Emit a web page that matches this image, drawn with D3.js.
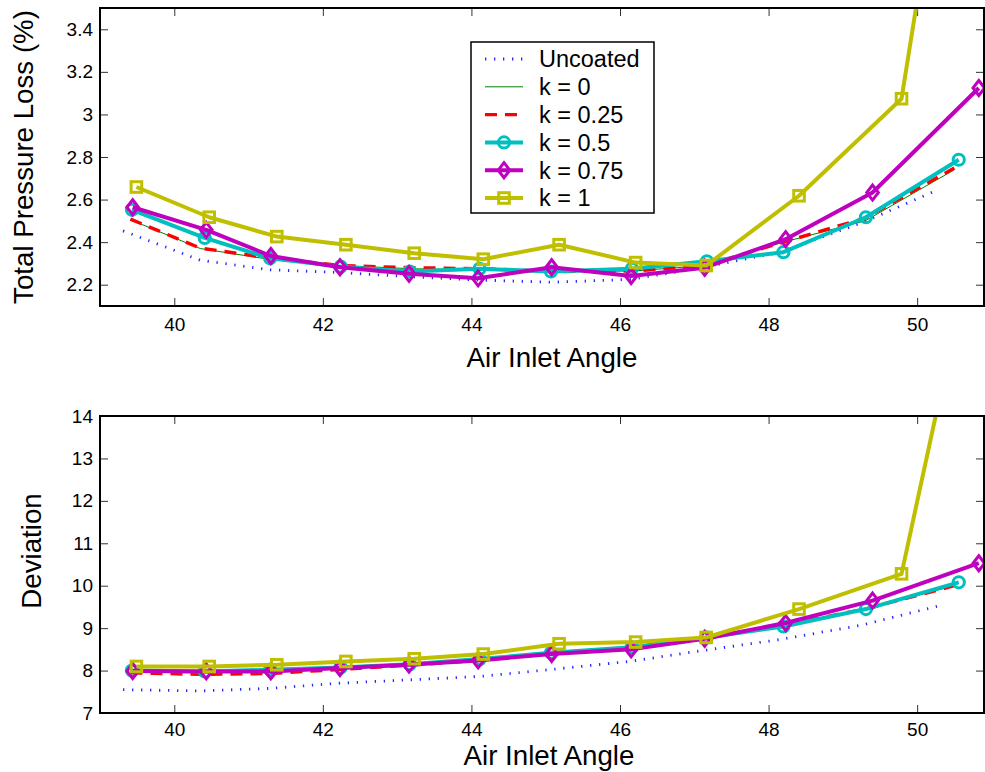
<!DOCTYPE html>
<html>
<head>
<meta charset="utf-8">
<script src="https://cdn.jsdelivr.net/npm/d3@7"></script>
<style>
  body { margin: 0; background: #fff; }
  svg { display: block; font-family: 'Liberation Sans', Arial, sans-serif; }
</style>
</head>
<body>
<div id="chart"></div>
<script>
// air inlet angle of each measured point (every series has its own)
const xUncoated = [39.31, 40.35, 41.28, 42.2, 43.15, 44.1, 45.1, 46.15, 47.1, 48.15, 49.25, 50.28];
const xK0 = [39.41, 40.35, 41.3, 42.25, 43.2, 44.15, 45.15, 46.2, 47.15, 48.2, 49.3, 50.5];
const xK025 = [39.41, 40.35, 41.3, 42.25, 43.2, 44.15, 45.15, 46.2, 47.15, 48.2, 49.3, 50.5];
const xK05 = [39.43, 40.41, 41.29, 42.24, 43.17, 44.11, 45.07, 46.16, 47.17, 48.2, 49.31, 50.56];
const xK075 = [39.44, 40.43, 41.3, 42.23, 43.16, 44.09, 45.08, 46.15, 47.14, 48.23, 49.4, 50.83];
const xK1 = [39.49, 40.47, 41.38, 42.31, 43.23, 44.16, 45.18, 46.21, 47.16, 48.41, 49.79, 50.5];

// total pressure loss (%)
const lossUncoated = [2.453, 2.315, 2.27, 2.258, 2.238, 2.222, 2.212, 2.225, 2.28, 2.352, 2.49, 2.646];
const lossK0 = [2.505, 2.37, 2.318, 2.29, 2.275, 2.27, 2.26, 2.265, 2.29, 2.4, 2.5, 2.74];
const lossK025 = [2.508, 2.372, 2.325, 2.29, 2.28, 2.275, 2.262, 2.265, 2.29, 2.4, 2.513, 2.748];
const lossK05 = [2.552, 2.42, 2.324, 2.285, 2.262, 2.275, 2.262, 2.275, 2.31, 2.353, 2.517, 2.787];
const lossK075 = [2.564, 2.458, 2.335, 2.282, 2.251, 2.23, 2.282, 2.241, 2.28, 2.414, 2.633, 3.124];
const lossK1 = [2.659, 2.517, 2.426, 2.388, 2.348, 2.32, 2.388, 2.304, 2.29, 2.618, 3.074, 4.63];

// deviation
const devUncoated = [7.55, 7.52, 7.58, 7.7, 7.78, 7.86, 8.03, 8.22, 8.47, 8.73, 9.07, 9.52];
const devK0 = [7.97, 7.95, 7.98, 8.05, 8.13, 8.25, 8.42, 8.55, 8.77, 9.07, 9.45, 10.0];
const devK025 = [7.95, 7.91, 7.93, 8.03, 8.13, 8.25, 8.42, 8.55, 8.77, 9.07, 9.45, 10.0];
const devK05 = [8.0, 7.98, 8.02, 8.07, 8.15, 8.27, 8.42, 8.55, 8.78, 9.04, 9.45, 10.08];
const devK075 = [7.99, 7.98, 7.98, 8.06, 8.14, 8.24, 8.39, 8.5, 8.75, 9.12, 9.65, 10.53];
const devK1 = [8.097, 8.097, 8.137, 8.215, 8.279, 8.389, 8.632, 8.672, 8.78, 9.449, 10.28, 16.03];

const seriesNames = ['Uncoated', 'k = 0', 'k = 0.25', 'k = 0.5', 'k = 0.75', 'k = 1'];
const xTicks = [40, 42, 44, 46, 48, 50];
const lossTicks = [2.2, 2.4, 2.6, 2.8, 3.0, 3.2, 3.4];
const devTicks = [7, 8, 9, 10, 11, 12, 13, 14];

const xList = [xUncoated, xK0, xK025, xK05, xK075, xK1];
const lossList = [lossUncoated, lossK0, lossK025, lossK05, lossK075, lossK1];
const devList = [devUncoated, devK0, devK025, devK05, devK075, devK1];

// line look for each series (MATLAB style)
const styles = [
  { color: '#2626ff', width: 2.8, dash: '1.3,7.7', marker: null },
  { color: '#008000', width: 1, dash: null, marker: null },
  { color: '#ff0000', width: 3.4, dash: '12,8', marker: null },
  { color: '#00bfbf', width: 4, dash: null, marker: 'circle' },
  { color: '#bf00bf', width: 4, dash: null, marker: 'diamond' },
  { color: '#bfbf00', width: 4, dash: null, marker: 'square' },
];

const width = 985;
const height = 772;
const left = 100;
const right = 984;

const svg = d3.select('#chart')
  .append('svg')
  .attr('width', width)
  .attr('height', height);

const xScale = d3.scaleLinear().domain([39, 50.9]).range([left, right]);

function drawMarker(g, type, cx, cy, color) {
  if (type === 'circle') {
    g.append('circle').attr('cx', cx).attr('cy', cy).attr('r', 5.6)
      .attr('fill', 'none').attr('stroke', color).attr('stroke-width', 3);
  } else if (type === 'diamond') {
    g.append('path')
      .attr('d', `M${cx},${cy - 7.5}L${cx + 5.8},${cy}L${cx},${cy + 7.5}L${cx - 5.8},${cy}Z`)
      .attr('fill', 'none').attr('stroke', color).attr('stroke-width', 3);
  } else if (type === 'square') {
    g.append('rect').attr('x', cx - 5.3).attr('y', cy - 5.3)
      .attr('width', 10.6).attr('height', 10.6)
      .attr('fill', 'none').attr('stroke', color).attr('stroke-width', 3);
  }
}

function drawPanel(id, top, bottom, yDomain, yTicks, yList, xPad) {
  const yScale = d3.scaleLinear().domain(yDomain).range([bottom, top]);
  const g = svg.append('g').attr('class', id);

  g.append('clipPath').attr('id', 'clip-' + id)
    .append('rect')
    .attr('x', left).attr('y', top)
    .attr('width', right - left).attr('height', bottom - top);

  const fmt = (d) => String(+d.toFixed(1));

  // ticks inside the box, labels on bottom and left only
  g.append('g')
    .attr('transform', `translate(0,${bottom})`)
    .call(d3.axisBottom(xScale).tickValues(xTicks).tickSizeInner(-8).tickSizeOuter(0).tickPadding(xPad).tickFormat(fmt));
  g.append('g')
    .attr('transform', `translate(0,${top})`)
    .call(d3.axisTop(xScale).tickValues(xTicks).tickSizeInner(-8).tickSizeOuter(0).tickFormat(''));
  g.append('g')
    .attr('transform', `translate(${left},0)`)
    .call(d3.axisLeft(yScale).tickValues(yTicks).tickSizeInner(-8).tickSizeOuter(0).tickPadding(7).tickFormat(fmt));
  g.append('g')
    .attr('transform', `translate(${right},0)`)
    .call(d3.axisRight(yScale).tickValues(yTicks).tickSizeInner(-8).tickSizeOuter(0).tickFormat(''));

  g.selectAll('.domain').remove();
  g.selectAll('.tick line').attr('stroke', '#333').attr('stroke-width', 1);
  g.selectAll('.tick text')
    .attr('fill', '#000')
    .style('font-size', '19px')
    .style('font-family', "'Liberation Sans', Arial, sans-serif");

  const plot = g.append('g').attr('clip-path', `url(#clip-${id})`);
  const line = d3.line().x((d) => xScale(d[0])).y((d) => yScale(d[1]));

  seriesNames.forEach((name, i) => {
    const st = styles[i];
    const pts = d3.zip(xList[i], yList[i]);
    plot.append('path')
      .datum(pts)
      .attr('d', line)
      .attr('fill', 'none')
      .attr('stroke', st.color)
      .attr('stroke-width', st.width)
      .attr('stroke-dasharray', st.dash)
      .attr('stroke-linejoin', 'round');
    if (st.marker) {
      pts.forEach((p) => drawMarker(plot, st.marker, xScale(p[0]), yScale(p[1]), st.color));
    }
  });

  // box
  g.append('rect')
    .attr('x', left).attr('y', top)
    .attr('width', right - left).attr('height', bottom - top)
    .attr('fill', 'none')
    .attr('stroke', '#000')
    .attr('stroke-width', 2);

  return yScale;
}

drawPanel('loss', 8, 306, [2.1, 3.5], lossTicks, lossList, 12);
drawPanel('dev', 416, 713, [7, 14], devTicks, devList, 10);

// axis titles
const titleStyle = (t) => t.attr('font-size', '27.7px').attr('fill', '#000').attr('text-anchor', 'middle');
svg.append('text').text('Total Pressure Loss (%)')
  .attr('transform', 'translate(33,157) rotate(-90)').call(titleStyle);
svg.append('text').text('Air Inlet Angle')
  .attr('x', 552).attr('y', 367).call(titleStyle);
svg.append('text').text('Deviation')
  .attr('transform', 'translate(41,551) rotate(-90)').call(titleStyle);
svg.append('text').text('Air Inlet Angle')
  .attr('x', 549).attr('y', 765).call(titleStyle);

// legend
const legend = svg.append('g').attr('class', 'legend');
legend.append('rect')
  .attr('x', 471).attr('y', 42)
  .attr('width', 183).attr('height', 171)
  .attr('fill', '#fff')
  .attr('stroke', '#000')
  .attr('stroke-width', 1.5);

seriesNames.forEach((name, i) => {
  const st = styles[i];
  const cy = 59 + i * 27.8;
  legend.append('line')
    .attr('x1', 485).attr('x2', 523)
    .attr('y1', cy).attr('y2', cy)
    .attr('stroke', st.color)
    .attr('stroke-width', st.width)
    .attr('stroke-dasharray', st.dash);
  if (st.marker) drawMarker(legend, st.marker, 504, cy, st.color);
  legend.append('text')
    .attr('x', 539).attr('y', cy).attr('dy', '0.36em')
    .attr('font-size', '23.5px')
    .attr('fill', '#000')
    .text(name);
});
</script>
</body>
</html>
